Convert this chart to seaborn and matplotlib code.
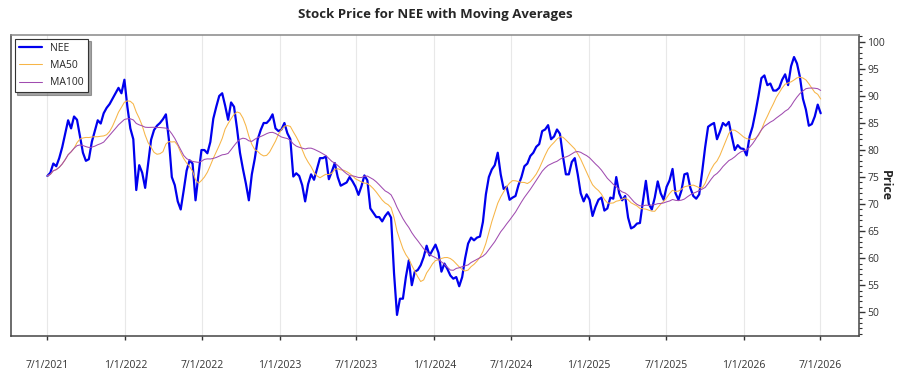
import pandas as pd
import matplotlib.pyplot as plt
import matplotlib.dates as mdates
from matplotlib.ticker import MultipleLocator, FuncFormatter
import seaborn as sns

sns.set_style('white')
plt.rcParams['font.family'] = ['Open Sans', 'DejaVu Sans']

# weekly closing prices (7/1/2021 .. 7/1/2026)
price_2021 = [75.2, 75.8, 77.5, 77.0, 78.5, 80.5, 83.0, 85.5, 84.0, 86.2,
              85.6, 82.5, 79.5, 78.0, 78.3, 81.5, 83.5, 85.5, 84.9, 86.8,
              87.8, 88.5, 89.5, 90.5, 91.5, 90.5]
price_2022 = [93.0, 88.0, 84.0, 82.0, 72.6, 77.2, 75.8, 73.0, 77.5, 81.9,
              83.7, 84.5, 85.0, 85.7, 86.6, 82.0, 75.0, 73.5, 70.5, 69.0,
              72.5, 76.2, 78.1, 77.5, 70.7, 75.5, 80.0, 80.0, 79.4, 81.5,
              85.8, 88.0, 90.0, 90.5, 88.2, 85.6, 88.8, 88.0, 84.0, 79.5,
              76.5, 73.8, 70.7, 75.5, 78.4, 82.0, 83.7, 85.0, 85.0, 85.6,
              86.6, 84.0]
price_2023 = [83.5, 83.8, 85.0, 83.1, 82.0, 75.1, 75.7, 75.2, 73.5, 70.5,
              73.7, 75.5, 74.5, 76.5, 78.5, 78.5, 78.8, 74.6, 76.0, 77.6,
              75.0, 73.4, 73.7, 74.0, 75.0, 74.2, 73.2, 71.7, 73.3, 75.3,
              74.4, 69.2, 68.4, 67.6, 67.6, 66.8, 67.8, 68.5, 67.5, 57.2,
              49.5, 52.5, 52.5, 56.5, 59.6, 55.0, 57.5, 57.8, 58.7, 60.2,
              62.3, 60.5]
price_2024 = [61.5, 62.5, 61.0, 57.5, 59.0, 58.0, 56.8, 56.2, 56.5, 54.8,
              56.5, 60.0, 62.7, 63.8, 63.3, 63.8, 64.0, 66.7, 71.8, 75.0,
              76.4, 77.2, 79.5, 75.5, 72.8, 73.2, 70.8, 71.2, 71.5, 73.5,
              75.0, 77.0, 77.5, 78.9, 79.5, 80.6, 81.1, 83.5, 83.8, 84.6,
              82.0, 82.5, 83.8, 83.0, 78.9, 75.5, 75.5, 77.8, 78.5, 75.5,
              72.0, 70.5]
price_2025 = [71.8, 70.8, 67.8, 69.5, 70.8, 71.2, 68.8, 69.2, 71.2, 71.0,
              75.0, 72.0, 70.7, 71.5, 67.5, 65.5, 65.8, 66.4, 66.5, 70.5,
              74.3, 70.0, 69.0, 71.2, 74.2, 72.0, 70.8, 73.2, 74.4, 76.5,
              72.0, 70.8, 72.5, 75.5, 75.7, 73.0, 71.5, 71.0, 71.8, 76.0,
              80.5, 84.3, 84.7, 85.0, 82.0, 83.4, 85.0, 84.5, 85.2, 82.5,
              80.0, 80.9, 80.3, 80.2]
price_2026 = [79.0, 82.5, 84.3, 87.0, 90.0, 93.3, 93.8, 92.0, 92.3, 91.0,
              91.0, 91.5, 93.0, 94.0, 92.0, 95.5, 97.2, 96.0, 93.5, 89.5,
              87.5, 84.5, 84.8, 86.2, 88.4, 86.8]

prices = price_2021 + price_2022 + price_2023 + price_2024 + price_2025 + price_2026
dates = pd.date_range('2021-07-01', periods=len(prices), freq='7D')

df = pd.DataFrame({'Date': dates, 'NEE': prices})
# 50 / 100 trading days ~ 10 / 20 weeks
df['MA50'] = df['NEE'].rolling(10, min_periods=1).mean()
df['MA100'] = df['NEE'].rolling(20, min_periods=1).mean()

fig = plt.figure(figsize=(9, 3.75), dpi=100)
ax = fig.add_axes([0.0122, 0.104, 0.942, 0.803])

sns.lineplot(data=df, x='Date', y='NEE', ax=ax, color='#0000ee', lw=1.6, label='NEE')
sns.lineplot(data=df, x='Date', y='MA50', ax=ax, color='#f7b547', lw=0.75, label='MA50')
sns.lineplot(data=df, x='Date', y='MA100', ax=ax, color='#a04cb0', lw=0.75, label='MA100')

ax.set_xlim(pd.Timestamp('2021-04-06'), pd.Timestamp('2026-09-30'))
ax.set_ylim(45.6, 101.3)

ax.xaxis.set_major_locator(mdates.MonthLocator(bymonth=[1, 7], bymonthday=1))
ax.xaxis.set_major_formatter(FuncFormatter(
    lambda v, p: '{d.month}/{d.day}/{d.year}'.format(d=mdates.num2date(v))))
ax.yaxis.set_major_locator(MultipleLocator(5))
ax.yaxis.set_minor_locator(MultipleLocator(1))
ax.yaxis.tick_right()
ax.yaxis.set_label_position('right')

ax.tick_params(axis='x', bottom=True, length=3, width=1, pad=14, labelsize=7.5, colors='#333333')
ax.tick_params(axis='y', which='major', right=True, left=False, length=4, width=1, pad=2,
               labelsize=7.5, colors='#333333')
ax.tick_params(axis='y', which='minor', right=True, left=False, length=2, width=0.8, colors='#333333')

ax.grid(axis='x', color='#e8e8e8', lw=0.8)
ax.grid(axis='y', visible=False)
for s in ax.spines.values():
    s.set_color('#444444')
    s.set_linewidth(1.1)
ax.spines['top'].set_color('#888888')

ax.set_xlabel('')
ax.set_ylabel('Price', fontsize=9, fontweight='bold', rotation=270, va='center', ha='center')
ax.yaxis.set_label_coords(1.031, 0.5)
ax.set_title('Stock Price for NEE with Moving Averages', fontsize=9.5, fontweight='bold', pad=12)

leg = ax.legend(loc='upper left', fontsize=7.5, frameon=True, fancybox=False, shadow=True,
                borderaxespad=0.35, handlelength=2.2, labelspacing=0.6)
leg.get_frame().set_edgecolor('#333333')
leg.get_frame().set_linewidth(0.8)

fig.savefig('out.png', dpi=100)
